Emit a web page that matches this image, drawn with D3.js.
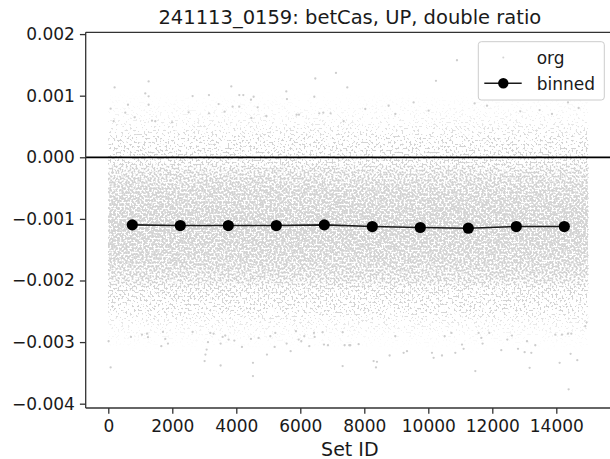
<!DOCTYPE html>
<html>
<head>
<meta charset="utf-8">
<script src="https://cdn.jsdelivr.net/npm/d3@7"></script>
<style>
  html, body { margin: 0; padding: 0; background: #fff; overflow: hidden; }
  svg { display: block; font-family: "DejaVu Sans", sans-serif; }
</style>
</head>
<body>
<svg id="chart" width="610" height="459"></svg>
<script>
// ---------------- data ----------------
const chartTitle = "241113_0159: betCas, UP, double ratio";
const xLabel = "Set ID";
const xTicks = [0, 2000, 4000, 6000, 8000, 10000, 12000, 14000];
const yTicks = [0.002, 0.001, 0.000, -0.001, -0.002, -0.003, -0.004];

// binned series
const binCenters = [750, 2250, 3750, 5250, 6750, 8250, 9750, 11250, 12750, 14250];
const binnedValues = [-0.001097, -0.001108, -0.001108, -0.001108, -0.001097,
                      -0.001124, -0.001140, -0.001151, -0.001124, -0.001124];

// "org" cloud: Set ID extent and vertical point density (fraction of area covered)
const orgSetIdExtent = [0, 15000];
const orgDensityLevels = [0.00115, 0.00090, 0.00065, 0.00040, 0.00018, 0.00000, -0.00024,
                          -0.00053, -0.00112, -0.00167, -0.00199, -0.00219, -0.00240,
                          -0.00262, -0.00285, -0.00310, -0.00340];
const orgDensityCover = [0.01, 0.05, 0.11, 0.22, 0.35, 0.48, 0.62,
                         0.70, 0.75, 0.70, 0.62, 0.48, 0.34,
                         0.19, 0.09, 0.03, 0.005];

// "org" individual sparse points (outliers): Set ID and value (x 1e-3)
const orgSetIds = [
  197,1260,1156,1260,1260,615,73,531,167,2635,3146,3844,4094,4219,4542,4458,3448,3885,4094,4667,
  2510,3146,3635,6469,7115,7469,5563,5583,6438,6594,6719,6947,5885,5958,4938,4469,7354,823,1365,1469,
  1990,10896,10240,8760,9541,11447,11834,12875,13478,14365,14698,8031,8969,10010,13865,
  10,73,708,1052,1208,1240,1708,1781,1865,1656,2635,3010,3036,3073,3115,3188,3291,3510,3510,3573,
  3656,3760,3938,4177,4458,4521,4521,4698,4958,5063,5219,5198,5573,5698,5865,5948,6031,6125,6281,
  6427,6448,6740,6865,6698,7323,7385,7531,7323,
  7563,7823,8969,8291,8396,8365,8791,9229,9334,10115,10166,10428,10510,10719,10844,11053,11103,
  11469,11572,11656,11697,11906,12281,12469,12615,12803,13010,13219,13084,13344,13166,13969,14177,
  14365,14469,14104,14447,14656,14385,14906,14947
];
const orgValuesE3 = [
  1.134,1.231,1.037,0.989,0.853,0.853,0.789,0.724,0.585,0.994,1.010,1.150,1.010,1.010,0.983,0.934,0.864,0.821,0.821,0.811,
  0.730,0.714,0.740,1.279,1.370,1.134,1.069,0.945,0.983,0.714,0.724,0.714,0.692,0.692,0.670,0.638,0.585,0.649,0.595,0.585,
  0.568,1.575,1.241,0.837,0.891,0.875,0.837,0.746,0.767,0.891,0.800,0.784,0.703,0.756,0.703,
  -2.986,-3.412,-2.916,-2.879,-2.863,-2.921,-2.835,-2.948,-3.024,-3.067,-2.835,-3.309,-3.202,-3.121,-3.002,-2.851,-2.863,-3.024,-3.380,-2.916,
  -2.895,-2.960,-2.976,-3.078,-2.948,-3.336,-3.551,-2.932,-3.202,-2.905,-2.851,-3.078,-3.024,-3.147,-2.824,-2.960,-2.986,-2.905,-3.067,
  -2.851,-2.916,-3.040,-3.051,-2.840,-3.390,-3.051,-3.051,-2.840,
  -3.051,-3.034,-2.905,-3.309,-3.320,-3.412,-3.218,-3.174,-3.147,-3.174,-3.255,-3.218,-2.905,-2.851,-3.174,-3.040,-3.110,
  -3.470,-2.851,-2.932,-3.024,-2.851,-3.131,-2.960,-2.895,-3.110,-3.163,-3.174,-2.986,-3.051,-3.417,-2.879,-2.879,
  -2.863,-2.863,-3.336,-3.191,-3.293,-3.767,-2.743,-2.679
];

const legendLabels = ["org", "binned"];

// ---------------- layout ----------------
const plot = { left: 85.7, right: 614, top: 32.3, bottom: 408 };
const svg = d3.select("#chart");
const defs = svg.append("defs");

const x = d3.scaleLinear().domain([-706, 15803]).range([plot.left, plot.right]);
const y = d3.scaleLinear().domain([-0.00407, 0.002029]).range([plot.bottom, plot.top]);

const lightgray = "#d3d3d3";

// clip
defs.append("clipPath").attr("id", "clip")
  .append("rect").attr("x", plot.left).attr("y", plot.top)
  .attr("width", plot.right - plot.left).attr("height", plot.bottom - plot.top);

// density gradient for the dense "org" cloud
const gTop = y(orgDensityLevels[0]), gBot = y(orgDensityLevels[orgDensityLevels.length - 1]);
const grad = defs.append("linearGradient")
  .attr("id", "cloudGrad").attr("gradientUnits", "userSpaceOnUse")
  .attr("x1", 0).attr("x2", 0).attr("y1", gTop).attr("y2", gBot);
orgDensityLevels.forEach((v, i) => {
  grad.append("stop")
    .attr("offset", (y(v) - gTop) / (gBot - gTop))
    .attr("stop-color", "#000")
    .attr("stop-opacity", orgDensityCover[i]);
});

// speckle texture so the density band looks like a cloud of small markers
const cx0 = x(orgSetIdExtent[0]), cx1 = x(orgSetIdExtent[1]);
const f = defs.append("filter").attr("id", "speckle")
  .attr("filterUnits", "userSpaceOnUse")
  .attr("x", cx0).attr("y", gTop).attr("width", cx1 - cx0).attr("height", gBot - gTop)
  .attr("color-interpolation-filters", "sRGB");
f.append("feTurbulence").attr("type", "fractalNoise").attr("baseFrequency", 0.5)
  .attr("numOctaves", 1).attr("seed", 7).attr("result", "noise");
f.append("feColorMatrix").attr("in", "noise").attr("type", "matrix")
  .attr("values", "0 0 0 0 0  0 0 0 0 0  0 0 0 0 0  3.2 0 0 0 -1.1").attr("result", "nalpha");
f.append("feComposite").attr("in", "SourceAlpha").attr("in2", "nalpha")
  .attr("operator", "arithmetic").attr("k1", 0).attr("k2", 4).attr("k3", -4).attr("k4", -0.1)
  .attr("result", "mask");
f.append("feFlood").attr("flood-color", lightgray).attr("result", "col");
f.append("feComposite").attr("in", "col").attr("in2", "mask").attr("operator", "in");

const plotG = svg.append("g").attr("clip-path", "url(#clip)");

plotG.append("rect")
  .attr("x", cx0).attr("width", cx1 - cx0)
  .attr("y", gTop).attr("height", gBot - gTop)
  .attr("fill", "url(#cloudGrad)")
  .attr("filter", "url(#speckle)");

const orgPoints = orgSetIds.map((s, i) => ({ s, v: orgValuesE3[i] / 1000 }));
plotG.append("g").selectAll("circle").data(orgPoints).join("circle")
  .attr("cx", d => x(d.s)).attr("cy", d => y(d.v)).attr("r", 1.15)
  .attr("fill", "#cdcdcd");

// zero line
plotG.append("line")
  .attr("x1", plot.left).attr("x2", plot.right)
  .attr("y1", y(0)).attr("y2", y(0))
  .attr("stroke", "#000").attr("stroke-width", 1.8);

// binned line + markers
const binned = binCenters.map((c, i) => ({ c, v: binnedValues[i] }));
plotG.append("path").datum(binned)
  .attr("d", d3.line().x(d => x(d.c)).y(d => y(d.v)))
  .attr("fill", "none").attr("stroke", "#1a1a1a").attr("stroke-width", 1.6);
plotG.append("g").selectAll("circle").data(binned).join("circle")
  .attr("cx", d => x(d.c)).attr("cy", d => y(d.v)).attr("r", 5.6)
  .attr("fill", "#000");

// ---------------- axes ----------------
const tickFont = 17;
const yAxis = d3.axisLeft(y).tickValues(yTicks).tickFormat(d3.format(".3f"))
  .tickSize(5.8).tickSizeOuter(0).tickPadding(5);
const yG = svg.append("g").attr("transform", `translate(${plot.left},0)`).call(yAxis);
yG.select(".domain").remove();
yG.selectAll(".tick line").attr("stroke", "#333").attr("stroke-width", 1.3);
yG.selectAll(".tick text").attr("fill", "#1a1a1a").style("font-size", tickFont + "px")
  .style("font-family", "DejaVu Sans");

const xAxis = d3.axisBottom(x).tickValues(xTicks).tickFormat(d3.format("d"))
  .tickSize(5.8).tickSizeOuter(0).tickPadding(6);
const xG = svg.append("g").attr("transform", `translate(0,${plot.bottom})`).call(xAxis);
xG.select(".domain").remove();
xG.selectAll(".tick line").attr("stroke", "#333").attr("stroke-width", 1.3);
xG.selectAll(".tick text").attr("fill", "#1a1a1a").style("font-size", tickFont + "px")
  .style("font-family", "DejaVu Sans");

// spines
const spine = (x1, y1, x2, y2) => svg.append("line")
  .attr("x1", x1).attr("y1", y1).attr("x2", x2).attr("y2", y2)
  .attr("stroke", "#333").attr("stroke-width", 1.3);
spine(plot.left, plot.top, plot.left, plot.bottom);
spine(plot.left, plot.bottom, plot.right, plot.bottom);
spine(plot.left, plot.top, plot.right, plot.top);
spine(plot.right, plot.top, plot.right, plot.bottom);

// title & label
const midX = (plot.left + plot.right) / 2;
svg.append("text").attr("x", midX).attr("y", 24).attr("text-anchor", "middle")
  .style("font-size", "19.5px").attr("fill", "#1a1a1a").text(chartTitle);
svg.append("text").attr("x", midX).attr("y", 456).attr("text-anchor", "middle")
  .style("font-size", "19px").attr("fill", "#1a1a1a").text(xLabel);

// ---------------- legend ----------------
const lg = svg.append("g");
lg.append("rect").attr("x", 478.3).attr("y", 41.7).attr("width", 126).attr("height", 58.3)
  .attr("rx", 3).attr("fill", "#fff").attr("fill-opacity", 0.8)
  .attr("stroke", "#cccccc").attr("stroke-width", 1);
// org entry
lg.append("circle").attr("cx", 503.3).attr("cy", 57.5).attr("r", 1.0).attr("fill", lightgray);
lg.append("text").attr("x", 536.7).attr("y", 64.3).style("font-size", "17px")
  .attr("fill", "#1a1a1a").text(legendLabels[0]);
// binned entry
lg.append("line").attr("x1", 484.3).attr("x2", 521.7).attr("y1", 83.3).attr("y2", 83.3)
  .attr("stroke", "#1a1a1a").attr("stroke-width", 1.6);
lg.append("circle").attr("cx", 503.3).attr("cy", 83.3).attr("r", 5.2).attr("fill", "#000");
lg.append("text").attr("x", 536.7).attr("y", 89.5).style("font-size", "17px")
  .attr("fill", "#1a1a1a").text(legendLabels[1]);
</script>
</body>
</html>
